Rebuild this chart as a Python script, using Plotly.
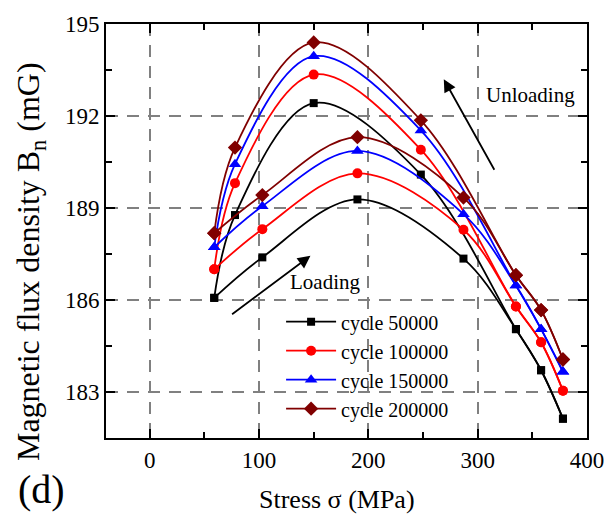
import plotly.graph_objects as go

# Stress levels (MPa) visited on the loading and unloading paths
stress_loading = [59, 103, 190, 287, 335, 358, 378]
stress_unloading = [378, 358, 335, 248, 150, 78, 59]

# Normal magnetic flux density B_n (mG) for each fatigue cycle count
cycle_labels = ["cycle 50000", "cycle 100000", "cycle 150000", "cycle 200000"]
bn_loading_50k = [186.07, 187.39, 189.28, 187.35, 185.05, 183.71, 182.13]
bn_unloading_50k = [182.13, 183.71, 185.05, 190.09, 192.42, 188.77, 186.07]
bn_loading_100k = [187.00, 188.31, 190.13, 188.29, 185.79, 184.62, 183.04]
bn_unloading_100k = [183.04, 184.62, 185.79, 190.90, 193.35, 189.81, 187.00]
bn_loading_150k = [187.72, 189.06, 190.86, 188.80, 186.47, 185.05, 183.66]
bn_unloading_150k = [183.66, 185.05, 186.47, 191.53, 193.95, 190.43, 187.72]
bn_loading_200k = [188.18, 189.42, 191.31, 189.34, 186.81, 185.67, 184.06]
bn_unloading_200k = [184.06, 185.67, 186.81, 191.86, 194.40, 190.97, 188.18]

x_ticks = [0, 100, 200, 300, 400]
y_ticks = [183, 186, 189, 192, 195]

FONT = "Liberation Serif"
styles = [
    ("black", "square", 8),
    ("#ff0000", "circle", 10),
    ("#0000ff", "triangle-up", 11),
    ("#800000", "diamond", 11),
]
loading_sets = [bn_loading_50k, bn_loading_100k, bn_loading_150k, bn_loading_200k]
unloading_sets = [bn_unloading_50k, bn_unloading_100k, bn_unloading_150k, bn_unloading_200k]

fig = go.Figure()
for label, (color, symbol, size), up, down in zip(cycle_labels, styles, loading_sets, unloading_sets):
    for xs, ys, show in ((stress_loading, up, True), (stress_unloading, down, False)):
        fig.add_trace(go.Scatter(
            x=xs, y=ys, name=label, showlegend=show,
            mode="lines+markers",
            line=dict(color=color, width=1.8, shape="spline", smoothing=1),
            marker=dict(color=color, symbol=symbol, size=size),
        ))

axis_common = dict(
    showline=True, linecolor="black", linewidth=2, mirror="allticks",
    ticks="inside", ticklen=9, tickwidth=2, tickcolor="black",
    showgrid=True, gridcolor="#808080", gridwidth=1.6, griddash="12px,9px",
    zeroline=False,
    tickfont=dict(family=FONT, size=23, color="black"),
)

fig.update_xaxes(
    range=[-40, 400], tickvals=x_ticks,
    minor=dict(dtick=50, ticks="inside", ticklen=6, tickwidth=1.5, tickcolor="black", showgrid=False),
    **axis_common,
)
fig.update_yaxes(
    range=[181.5, 195], tickvals=y_ticks,
    minor=dict(dtick=1.5, tick0=183, ticks="inside", ticklen=6, tickwidth=1.5, tickcolor="black", showgrid=False),
    **axis_common,
)

fig.add_annotation(text="Loading", x=160, y=186.58, xref="x", yref="y", showarrow=False,
                   font=dict(family=FONT, size=21, color="black"))
fig.add_annotation(text="Unloading", x=348, y=192.7, xref="x", yref="y", showarrow=False,
                   font=dict(family=FONT, size=21, color="black"))
fig.add_annotation(x=147, y=187.44, ax=74, ay=185.5, xref="x", yref="y", axref="x", ayref="y",
                   text="", showarrow=True, arrowhead=2, arrowsize=1.4, arrowwidth=1.8, arrowcolor="black")
fig.add_annotation(x=269, y=193.2, ax=316, ay=190.2, xref="x", yref="y", axref="x", ayref="y",
                   text="", showarrow=True, arrowhead=2, arrowsize=1.4, arrowwidth=1.8, arrowcolor="black")

# axis titles and panel tag
fig.add_annotation(text="Stress σ (MPa)", x=0.48, y=-0.148, xref="paper", yref="paper",
                   showarrow=False, yanchor="middle", font=dict(family=FONT, size=26, color="black"))
fig.add_annotation(text="Magnetic flux density B<sub>n</sub> (mG)", x=-0.158, y=0.425,
                   xref="paper", yref="paper", showarrow=False, textangle=-90,
                   xanchor="center", yanchor="middle",
                   font=dict(family=FONT, size=32, color="black"))
fig.add_annotation(text="(d)", x=-0.187, y=-0.125, xref="paper", yref="paper", showarrow=False,
                   xanchor="left", yanchor="middle", font=dict(family=FONT, size=40, color="black"))

fig.update_layout(
    width=616, height=517,
    margin=dict(l=106, r=29, t=18, b=79),
    plot_bgcolor="white", paper_bgcolor="white",
    legend=dict(x=0.364, y=0.328, xanchor="left", yanchor="top", bgcolor="rgba(0,0,0,0)",
                font=dict(family=FONT, size=20, color="black"), itemwidth=50,
                tracegroupgap=0),
)

fig.write_html("out.html")
